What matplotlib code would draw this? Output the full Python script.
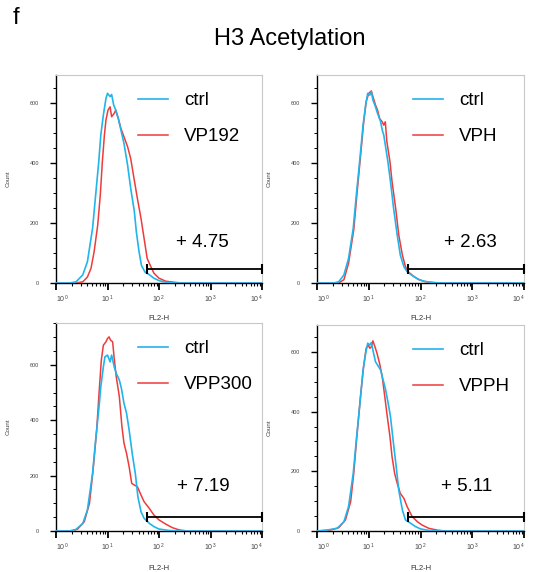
import numpy as np
import matplotlib
matplotlib.use("Agg")
import matplotlib.pyplot as plt
from matplotlib.ticker import FixedLocator, LogLocator, NullFormatter, MultipleLocator
from matplotlib.transforms import ScaledTranslation

plt.rcParams['font.family'] = ['Liberation Sans', 'DejaVu Sans']
plt.rcParams['mathtext.default'] = 'regular'

# ---------------- data (log10 FL2-H, counts) ----------------
p1_ctrl_log = [0.00,0.26,0.39,0.52,0.61,0.71,0.77,0.83,0.87,0.92,0.97,1.00,1.05,1.08,1.12,1.16,1.21,1.26,1.32,1.39,1.45,1.52,1.56,1.61,1.66,1.73,1.81,1.90,2.00,2.13,2.32,4.00]
p1_ctrl_cnt = [0,0,4,27,71,182,293,404,493,560,615,632,621,628,593,576,548,510,465,393,316,240,171,107,58,36,28,16,8,2,0,0]
p1_trt_log = [0.00,0.39,0.52,0.61,0.68,0.74,0.81,0.86,0.90,0.94,0.97,1.01,1.05,1.08,1.13,1.16,1.21,1.26,1.32,1.39,1.45,1.52,1.58,1.65,1.71,1.77,1.84,1.90,2.00,2.13,2.32,2.45,4.00]
p1_trt_cnt = [0,0,4,20,49,104,193,293,404,493,543,576,587,554,565,576,548,515,487,454,415,343,282,216,149,82,55,33,16,6,2,0,0]

p2_ctrl_log = [0.00,0.32,0.42,0.52,0.61,0.70,0.76,0.83,0.89,0.94,0.98,1.02,1.05,1.08,1.13,1.17,1.23,1.26,1.29,1.32,1.37,1.42,1.48,1.55,1.61,1.68,1.74,1.84,1.94,2.06,2.23,2.39,4.00]
p2_ctrl_cnt = [0,0,4,27,82,182,293,415,526,593,632,626,637,610,587,565,537,510,493,460,404,338,249,160,93,54,38,25,14,6,2,0,0]
p2_trt_log = [0.00,0.42,0.52,0.61,0.71,0.77,0.84,0.90,0.95,1.00,1.05,1.08,1.13,1.17,1.21,1.26,1.29,1.32,1.35,1.41,1.45,1.52,1.58,1.65,1.71,1.77,1.87,1.97,2.10,2.26,2.42,4.00]
p2_trt_cnt = [0,0,11,66,177,293,421,532,604,632,640,621,593,576,548,537,526,537,471,404,338,249,160,93,54,36,22,11,4,1,0,0]

p3_ctrl_log = [0.00,0.26,0.39,0.52,0.61,0.71,0.77,0.83,0.87,0.92,0.95,1.00,1.05,1.08,1.13,1.17,1.23,1.27,1.32,1.37,1.42,1.48,1.54,1.59,1.65,1.71,1.81,1.90,2.00,2.19,2.39,4.00]
p3_ctrl_cnt = [0,0,6,27,76,208,329,437,521,593,629,635,611,635,593,569,545,515,461,425,365,280,208,124,70,46,28,16,7,2,0,0]
p3_trt_log = [0.00,0.32,0.42,0.55,0.65,0.72,0.79,0.84,0.88,0.92,0.97,1.00,1.03,1.06,1.10,1.13,1.17,1.23,1.28,1.32,1.37,1.42,1.47,1.52,1.58,1.65,1.71,1.81,1.90,2.00,2.13,2.26,2.39,2.55,4.00]
p3_trt_cnt = [0,0,7,34,100,220,365,509,617,671,683,695,701,689,683,623,557,485,377,317,280,232,172,166,160,130,106,82,58,40,25,12,4,0,0]

p4_ctrl_log = [0.00,0.19,0.39,0.52,0.61,0.70,0.76,0.83,0.89,0.94,0.98,1.02,1.05,1.08,1.13,1.17,1.23,1.27,1.32,1.37,1.42,1.47,1.53,1.58,1.65,1.71,1.81,1.90,2.00,2.16,2.32,4.00]
p4_ctrl_cnt = [0,3,9,31,82,193,305,428,539,595,629,623,631,606,567,556,539,511,478,433,383,305,216,137,70,37,26,15,7,2,0,0]
p4_trt_log = [0.00,0.26,0.42,0.55,0.65,0.71,0.77,0.84,0.90,0.95,0.99,1.02,1.05,1.08,1.12,1.16,1.21,1.26,1.31,1.35,1.41,1.45,1.50,1.55,1.61,1.68,1.74,1.84,1.94,2.03,2.16,2.32,2.48,4.00]
p4_trt_cnt = [0,3,11,37,98,193,316,450,550,612,623,612,617,637,617,595,561,517,450,394,316,249,193,160,126,109,82,48,31,20,9,3,0,0]

treatments = ["VP192", "VPH", "VPP300", "VPPH"]
percents = ["+ 4.75", "+ 2.63", "+ 7.19", "+ 5.11"]
gate_start = 57.5
gate_end = 10000
gate_levels = [47, 47, 50, 47]
y_max = [693, 693, 751, 690]
x_tick_vals = [1, 10, 100, 1000, 10000]
x_tick_labels = [r'$10^{\,0}$', r'$10^{\,1}$', r'$10^{\,2}$', r'$10^{\,3}$', r'$10^{\,4}$']
y_tick_vals = [0, 200, 400, 600]

curves = [
    (p1_ctrl_log, p1_ctrl_cnt, p1_trt_log, p1_trt_cnt),
    (p2_ctrl_log, p2_ctrl_cnt, p2_trt_log, p2_trt_cnt),
    (p3_ctrl_log, p3_ctrl_cnt, p3_trt_log, p3_trt_cnt),
    (p4_ctrl_log, p4_ctrl_cnt, p4_trt_log, p4_trt_cnt),
]

# ---------------- layout ----------------
W, H = 536, 572
fig = plt.figure(figsize=(W/100, H/100), dpi=100)
# axes boxes in pixels: left, top, right, bottom
boxes = [(56, 75, 262, 283), (317, 75, 524, 283), (56, 323, 262, 531), (317, 325, 524, 531)]
text_pos = [(0.583, 0.197), (0.613, 0.197), (0.587, 0.212), (0.599, 0.214)]
leg_pos = [(0.398, 0.917), (0.464, 0.917), (0.398, 0.917), (0.464, 0.917)]
xlab_y = [-0.154, -0.154, -0.163, -0.163]

CYAN = '#22B4EA'
RED = '#EE3B3B'

for i, (l, t, r, b) in enumerate(boxes):
    ax = fig.add_axes([l/W, 1-b/H, (r-l)/W, (b-t)/H])
    cl, cc, tl, tc = curves[i]
    ax.plot(10**np.array(tl), tc, color=RED, lw=1.1, label=treatments[i], zorder=3)
    ax.plot(10**np.array(cl), cc, color=CYAN, lw=1.2, label='ctrl', zorder=4)
    ax.plot([gate_start, gate_end], [gate_levels[i]]*2, color='black', lw=1.3,
            marker='|', ms=7, mew=1.5, clip_on=False, zorder=5)
    ax.set_xscale('log')
    ax.set_xlim(1, 10000)
    ax.set_ylim(0, y_max[i])
    ax.set_xticks(x_tick_vals)
    ax.set_xticklabels(x_tick_labels)
    ax.xaxis.set_minor_locator(LogLocator(base=10, subs=np.arange(2, 10), numticks=20))
    ax.xaxis.set_minor_formatter(NullFormatter())
    ax.yaxis.set_major_locator(FixedLocator(y_tick_vals))
    ax.yaxis.set_minor_locator(MultipleLocator(50))
    ax.tick_params(axis='x', which='major', length=5, width=1.3, labelsize=5,
                   labelcolor='#444444', pad=2.5)
    ax.tick_params(axis='x', which='minor', length=2.5, width=0.8)
    ax.tick_params(axis='y', which='major', length=4, width=1.0, labelsize=4,
                   labelcolor='#444444', pad=8)
    ax.tick_params(axis='y', which='minor', length=2, width=0.7)
    xl = ax.get_xticklabels()
    xl[0].set_transform(xl[0].get_transform() + ScaledTranslation(7/100, 0, fig.dpi_scale_trans))
    xl[-1].set_transform(xl[-1].get_transform() + ScaledTranslation(-5/100, 0, fig.dpi_scale_trans))
    for s in ['top', 'right']:
        ax.spines[s].set_color('#c8c8c8')
        ax.spines[s].set_linewidth(0.8)
    for s in ['left', 'bottom']:
        ax.spines[s].set_color('black')
        ax.spines[s].set_linewidth(1.0)
    ax.set_ylabel('Count', fontsize=4.5, color='#444444')
    ax.yaxis.set_label_coords(-45.5/206, 0.5)
    ax.set_xlabel('FL2-H', fontsize=5.5, color='#333333')
    ax.xaxis.set_label_coords(0.5, xlab_y[i])
    h, lab = ax.get_legend_handles_labels()
    ax.legend([h[1], h[0]], [lab[1], lab[0]], loc='upper left', bbox_to_anchor=leg_pos[i],
              frameon=False, fontsize=13.5, handlelength=1.6, handletextpad=0.85,
              labelspacing=1.0, borderpad=0, borderaxespad=0)
    ax.text(text_pos[i][0], text_pos[i][1], percents[i], transform=ax.transAxes,
            fontsize=13.5, ha='left', va='center', color='black')

fig.text(13/W, 1-18/H, 'f', fontsize=17, ha='left', va='center')
fig.text(290/W, 1-39/H, 'H3 Acetylation', fontsize=17, ha='center', va='center')

fig.savefig('out.png', dpi=100)
